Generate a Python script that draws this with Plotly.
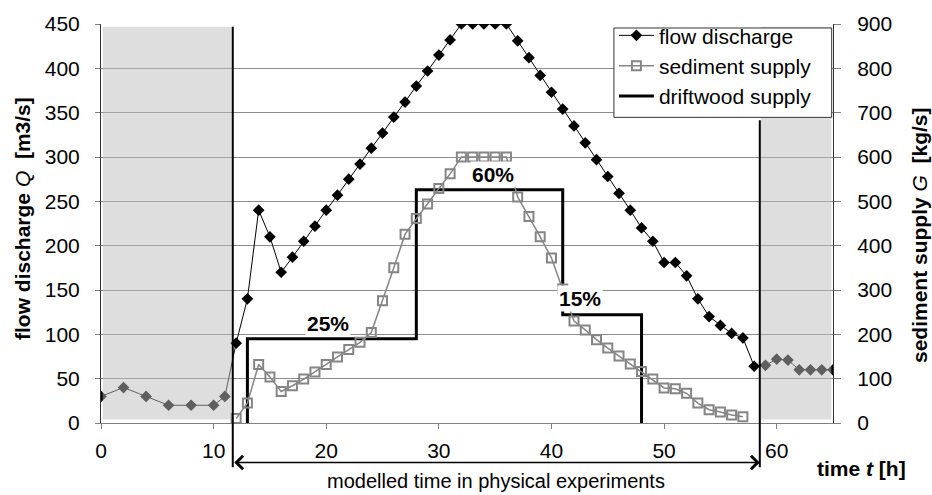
import plotly.graph_objects as go

# ---- data ----
flow_t = [0, 2, 4, 6, 8, 10] + list(range(11, 66))
flow_q = [30, 40, 30, 20, 20, 20,
          30, 90, 140, 240, 210,
          170, 187, 205, 222, 240, 257, 275, 292, 310, 327, 345, 362, 380, 397, 415, 432, 450,
          450, 450, 450, 450,
          431, 412, 392, 373, 354, 335, 316, 297, 278, 259, 240, 220,
          205, 181, 181, 166, 140, 120, 110, 101, 96, 64, 65, 72, 71, 60, 60, 60, 60]

sed_t = list(range(12, 58))
sed_g = [10, 45, 132, 104, 71, 84, 99, 115, 132, 149,
         166, 182, 204, 276, 350, 426, 461, 494, 529, 562,
         600, 600, 600, 600, 600, 510, 466, 420, 372, 302,
         230, 210, 188, 169, 151, 133, 116, 99, 79, 77,
         67, 45, 30, 25, 18, 14]

drift_t = [13, 13, 28, 41, 48]
drift_v = [0, 95, 263, 122, 0]

pct_labels = ["25%", "60%", "15%"]
pct_t = [20.2, 34.8, 42.5]
pct_v = [112, 280, 140]

model_start, model_end = 11.7, 58.5
x_ticks = [0, 10, 20, 30, 40, 50, 60]

FONT = "Liberation Sans, Arial, sans-serif"
FS = 21

fig = go.Figure()

fig.add_trace(go.Scatter(
    x=flow_t, y=flow_q, name="flow discharge", mode="lines+markers",
    line=dict(color="black", width=1),
    marker=dict(symbol="diamond", size=9, color="black")))

fig.add_trace(go.Scatter(
    x=sed_t, y=sed_g, name="sediment supply", mode="lines+markers", yaxis="y2",
    line=dict(color="#858585", width=1.5),
    marker=dict(symbol="square-open", size=9, color="#858585", line=dict(width=2, color="#858585"))))

fig.add_trace(go.Scatter(
    x=drift_t, y=drift_v, name="driftwood supply", mode="lines",
    line=dict(color="black", width=3, shape="hv")))

shapes = [
    # shaded periods (overlay, drawn above the data)
    dict(type="rect", xref="x", yref="y", x0=0.15, x1=model_start - 0.1, y0=4, y1=447,
         fillcolor="rgba(190,190,190,0.5)", line=dict(width=0), layer="above"),
    dict(type="rect", xref="x", yref="y", x0=model_end + 0.1, x1=64.85, y0=4, y1=447,
         fillcolor="rgba(190,190,190,0.5)", line=dict(width=0), layer="above"),
    # vertical limit lines
    dict(type="line", xref="x", yref="paper", x0=model_start, x1=model_start, y0=-0.111, y1=0.993,
         line=dict(color="black", width=2), layer="above"),
    dict(type="line", xref="x", yref="paper", x0=model_end, x1=model_end, y0=-0.111, y1=0.759,
         line=dict(color="black", width=2), layer="above"),
    # legend frame
    dict(type="rect", xref="paper", yref="paper", x0=0.7007, x1=0.9982, y0=0.766, y1=0.990,
         fillcolor="white", line=dict(color="#333333", width=1), layer="above"),
]

annotations = []
for lab, t, v in zip(pct_labels, pct_t, pct_v):
    annotations.append(dict(x=t, y=v, xref="x", yref="y", text="<b>%s</b>" % lab, showarrow=False,
                            xanchor="center", yanchor="middle",
                            font=dict(family=FONT, size=FS, color="black"), bgcolor="white"))

# double arrow for modelled time
annotations.append(dict(x=model_end, y=-0.099, xref="x", yref="paper",
                        ax=model_start, ay=0, axref="x", ayref="pixel",
                        showarrow=True, arrowhead=4, startarrowhead=4, arrowside="end+start",
                        arrowsize=2, startarrowsize=2, arrowwidth=1.3, arrowcolor="black", text=""))
annotations.append(dict(x=(model_start + model_end) / 2, y=-0.145, xref="x", yref="paper",
                        xanchor="center", yanchor="middle",
                        text="modelled time in physical experiments", showarrow=False,
                        font=dict(family=FONT, size=20, color="black")))
annotations.append(dict(x=1.039, y=-0.115, xref="paper", yref="paper",
                        xanchor="center", yanchor="middle",
                        text="<b>time <i>t</i> [h]</b>", showarrow=False,
                        font=dict(family=FONT, size=FS, color="black")))
annotations.append(dict(x=-0.107, y=0.513, xref="paper", yref="paper", textangle=-90,
                        xanchor="center", yanchor="middle",
                        text="<b>flow discharge</b> <i>Q</i>  <b>[m3/s]</b>", showarrow=False,
                        font=dict(family=FONT, size=FS, color="black")))
annotations.append(dict(x=1.118, y=0.472, xref="paper", yref="paper", textangle=-90,
                        xanchor="center", yanchor="middle",
                        text="<b>sediment supply</b> <i>G</i>  <b>[kg/s]</b>", showarrow=False,
                        font=dict(family=FONT, size=FS, color="black")))

fig.update_layout(
    width=932, height=495,
    margin=dict(l=101, r=99, t=17, b=72),
    paper_bgcolor="white", plot_bgcolor="white",
    font=dict(family=FONT, size=FS, color="black"),
    showlegend=True,
    legend=dict(x=0.7007, y=1.022, xanchor="left", yanchor="top",
                bgcolor="rgba(0,0,0,0)", borderwidth=0,
                font=dict(family=FONT, size=21, color="black"),
                itemwidth=35),
    xaxis=dict(range=[0, 65], tickvals=x_ticks, ticks="outside", ticklen=5, tickcolor="#808080",
               showline=True, linecolor="#808080", linewidth=1, showgrid=False, zeroline=False,
               ticklabelstandoff=4, tickfont=dict(size=FS)),
    yaxis=dict(range=[0, 450], dtick=50, ticks="outside", ticklen=5, tickcolor="#808080",
               showline=True, linecolor="#333333", linewidth=1,
               showgrid=True, gridcolor="#8c8c8c", gridwidth=1, zeroline=False,
               ticklabelstandoff=11, tickfont=dict(size=FS)),
    yaxis2=dict(range=[0, 900], dtick=100, overlaying="y", side="right", ticks="outside",
                ticklen=7, tickcolor="#808080", showline=True, linecolor="#333333", linewidth=1,
                showgrid=False, zeroline=False, ticklabelstandoff=12, tickfont=dict(size=FS)),
    shapes=shapes,
    annotations=annotations,
)

fig.write_html("out.html", config={"displayModeBar": False},
               post_script="document.body.style.margin='0';")
